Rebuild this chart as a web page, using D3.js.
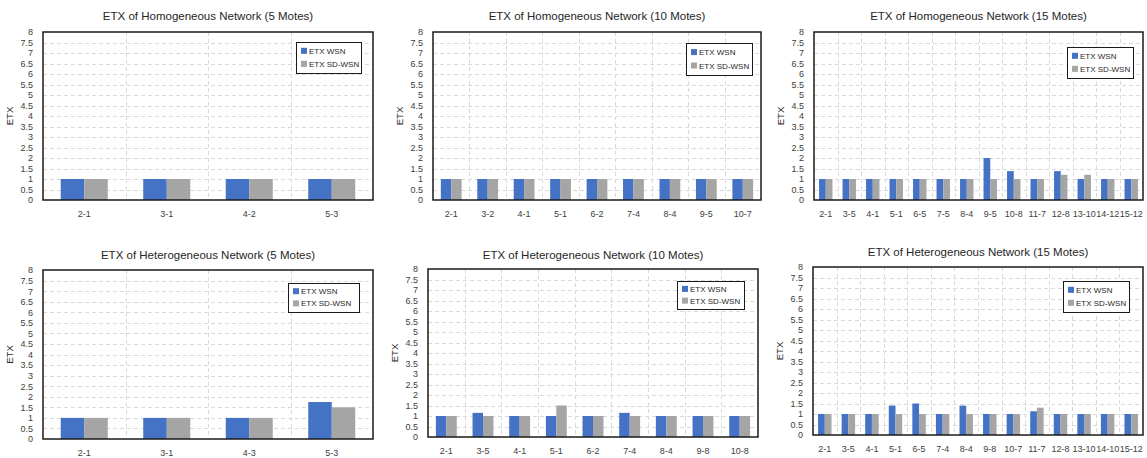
<!DOCTYPE html>
<html><head><meta charset="utf-8">
<script src="https://cdn.jsdelivr.net/npm/d3@7/dist/d3.min.js"></script>
<style>
body{margin:0;background:#fff;}
svg{display:block;font-family:"Liberation Sans",Arial,sans-serif;}
</style></head>
<body>
<svg id="c" width="1147" height="458"></svg>
<script>
// ---- data ----
const titles = [
  "ETX of Homogeneous Network (5 Motes)",
  "ETX of Homogeneous Network (10 Motes)",
  "ETX of Homogeneous Network (15 Motes)",
  "ETX of Heterogeneous Network (5 Motes)",
  "ETX of Heterogeneous Network (10 Motes)",
  "ETX of Heterogeneous Network (15 Motes)"
];
const seriesNames = ["ETX WSN", "ETX SD-WSN"];
const yTicks = [0,0.5,1,1.5,2,2.5,3,3.5,4,4.5,5,5.5,6,6.5,7,7.5,8];

const homo5Links = ["2-1","3-1","4-2","5-3"];
const homo5WSN   = [1,1,1,1];
const homo5SD    = [1,1,1,1];

const homo10Links = ["2-1","3-2","4-1","5-1","6-2","7-4","8-4","9-5","10-7"];
const homo10WSN   = [1,1,1,1,1,1,1,1,1];
const homo10SD    = [1,1,1,1,1,1,1,1,1];

const homo15Links = ["2-1","3-5","4-1","5-1","6-5","7-5","8-4","9-5","10-8","11-7","12-8","13-10","14-12","15-12"];
const homo15WSN   = [1,1,1,1,1,1,1,2,1.375,1,1.375,1,1,1];
const homo15SD    = [1,1,1,1,1,1,1,1,1,1,1.2,1.2,1,1];

const hetero5Links = ["2-1","3-1","4-3","5-3"];
const hetero5WSN   = [1,1,1,1.75];
const hetero5SD    = [1,1,1,1.5];

const hetero10Links = ["2-1","3-5","4-1","5-1","6-2","7-4","8-4","9-8","10-8"];
const hetero10WSN   = [1,1.15,1,1,1,1.15,1,1,1];
const hetero10SD    = [1,1,1,1.5,1,1,1,1,1];

const hetero15Links = ["2-1","3-5","4-1","5-1","6-5","7-4","8-4","9-8","10-7","11-7","12-8","13-10","14-10","15-12"];
const hetero15WSN   = [1,1,1,1.4,1.5,1,1.4,1,1,1.13,1,1,1,1];
const hetero15SD    = [1,1,1,1,1,1,1,1,1,1.3,1,1,1,1];

// ---- layout ----
const colors = ["#4472C4","#A5A5A5"];
const panels = [
  {links:homo5Links,  s:[homo5WSN,homo5SD],     L:43, R:373,  T:32,  B:200, ty:20,  lg:[296,42,65,31]},
  {links:homo10Links, s:[homo10WSN,homo10SD],   L:433,R:761,  T:32,  B:200, ty:20,  lg:[686,43,66,32]},
  {links:homo15Links, s:[homo15WSN,homo15SD],   L:814,R:1143, T:32,  B:200, ty:20,  lg:[1067,47,66,31]},
  {links:hetero5Links,  s:[hetero5WSN,hetero5SD],   L:43, R:373,  T:270, B:439, ty:259, lg:[288,283,71,29]},
  {links:hetero10Links, s:[hetero10WSN,hetero10SD], L:428,R:758,  T:269, B:437, ty:259, lg:[677,281,67,28]},
  {links:hetero15Links, s:[hetero15WSN,hetero15SD], L:813,R:1143, T:267, B:435, ty:256, lg:[1063,281,66,31]}
];

const svg = d3.select("#c");
panels.forEach((p,i)=>{
  const g = svg.append("g");
  const x = d3.scaleBand().domain(p.links).range([p.L,p.R]).padding(0);
  const y = d3.scaleLinear().domain([0,8]).range([p.B,p.T]);
  const bw = x.bandwidth()*0.57/2;

  // horizontal grid
  g.append("g").selectAll("line").data(yTicks.filter(t=>t>0&&t<8)).join("line")
    .attr("x1",p.L).attr("x2",p.R).attr("y1",d=>Math.round(y(d))+0.5).attr("y2",d=>Math.round(y(d))+0.5)
    .attr("stroke","#d9d9d9").attr("stroke-width",1).attr("stroke-dasharray","4,3");
  // vertical grid at band boundaries
  g.append("g").selectAll("line").data(p.links.slice(1)).join("line")
    .attr("x1",d=>Math.round(x(d))+0.5).attr("x2",d=>Math.round(x(d))+0.5).attr("y1",p.T).attr("y2",p.B)
    .attr("stroke","#d9d9d9").attr("stroke-width",1).attr("stroke-dasharray","4,3");

  // bars
  p.s.forEach((vals,si)=>{
    g.append("g").selectAll("rect").data(p.links).join("rect")
      .attr("x",(d)=>x(d)+x.bandwidth()/2 - bw + si*bw)
      .attr("y",(d,k)=>y(vals[k]))
      .attr("width",bw)
      .attr("height",(d,k)=>y(0)-y(vals[k]))
      .attr("fill",colors[si]);
  });

  // y axis labels
  const ya = d3.axisLeft(y).tickValues(yTicks).tickSize(0).tickPadding(10).tickFormat(d=>String(d));
  const yg = g.append("g").attr("transform",`translate(${p.L},0)`).call(ya);
  yg.select(".domain").remove();
  yg.selectAll("text").attr("font-size",9).attr("fill","#404040").attr("font-family","Liberation Sans, Arial, sans-serif");

  // x axis labels
  const xa = d3.axisBottom(x).tickSize(0).tickPadding(11);
  const xg = g.append("g").attr("transform",`translate(0,${p.B})`).call(xa);
  xg.select(".domain").remove();
  xg.selectAll("text").attr("font-size",9).attr("fill","#404040").attr("font-family","Liberation Sans, Arial, sans-serif");

  // plot border
  g.append("rect").attr("x",p.L).attr("y",p.T).attr("width",p.R-p.L).attr("height",p.B-p.T)
    .attr("fill","none").attr("stroke","#1a1a1a").attr("stroke-width",1.5);

  // y axis title
  g.append("text").attr("transform",`translate(${p.L-30},${(p.T+p.B)/2}) rotate(-90)`)
    .attr("text-anchor","middle").attr("font-size",9.5).attr("fill","#262626").text("ETX");

  // title
  g.append("text").attr("x",(p.L+p.R)/2).attr("y",p.ty).attr("text-anchor","middle")
    .attr("font-size",11.5).attr("fill","#262626").text(titles[i]);

  // legend
  const [lx,ly,lw,lh] = p.lg;
  const lg = g.append("g");
  lg.append("rect").attr("x",lx+0.5).attr("y",ly+0.5).attr("width",lw).attr("height",lh)
    .attr("fill","#fff").attr("stroke","#1a1a1a").attr("stroke-width",1);
  seriesNames.forEach((n,si)=>{
    const cy = ly + lh*(si===0?0.3:0.72);
    lg.append("rect").attr("x",lx+5).attr("y",cy-3.5).attr("width",6).attr("height",6).attr("fill",colors[si]);
    lg.append("text").attr("x",lx+13).attr("y",cy+2.5).attr("font-size",8).attr("fill","#262626").text(n);
  });
});
</script>
</body></html>
